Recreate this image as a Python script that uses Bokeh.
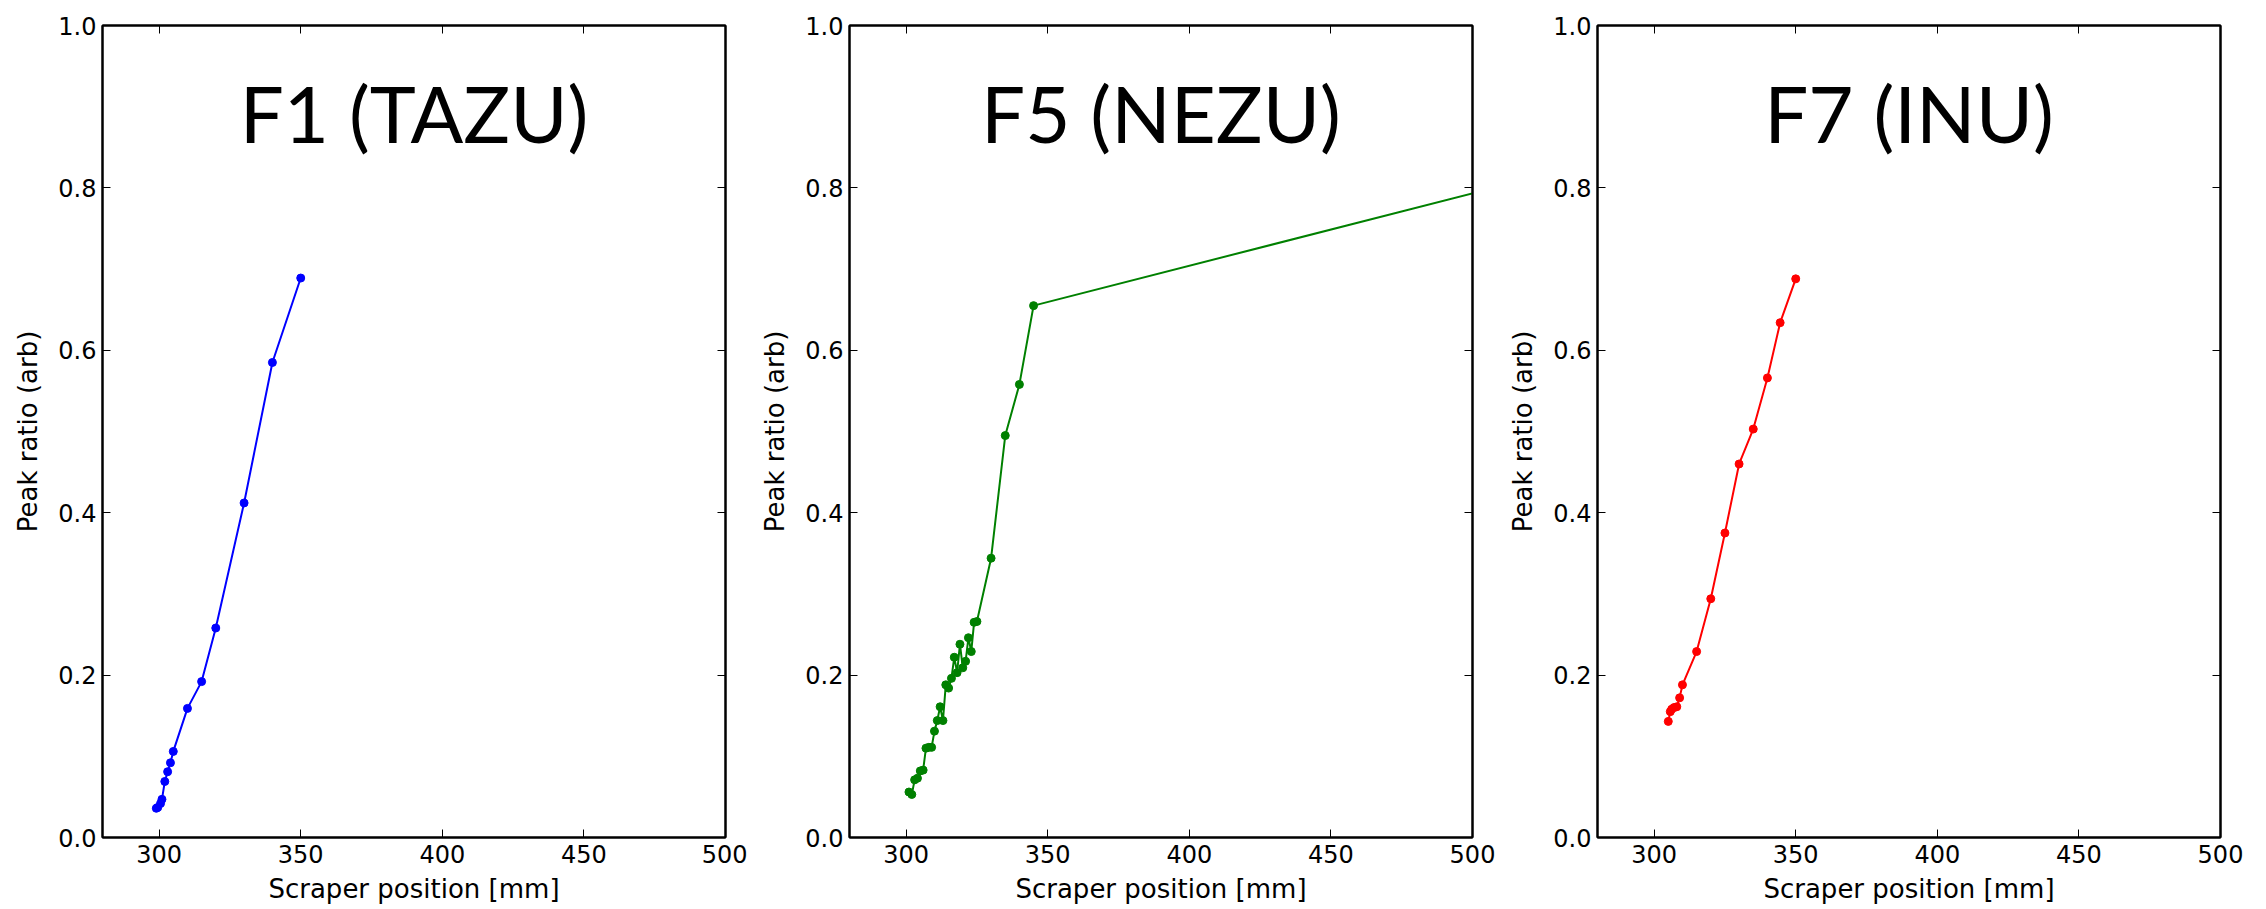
from bokeh.plotting import figure
from bokeh.layouts import row
from bokeh.models import (LinearAxis, FixedTicker, Range1d, Label, ColumnDataSource,
                          PrintfTickFormatter, CustomJSTickFormatter)
from bokeh.embed import file_html
from bokeh.resources import INLINE

# ---- data ----
f1_x = [299.0, 299.5, 300.5, 301.0, 302.0, 303.0, 304.0, 305.0, 310.0, 315.0, 320.0, 330.0, 340.0, 350.0]
f1_y = [0.036, 0.037, 0.042, 0.047, 0.069, 0.081, 0.092, 0.106, 0.159, 0.192, 0.258, 0.412, 0.585, 0.689]

f5_x = [301, 302, 303, 304, 305, 306, 307, 308, 309, 310, 311, 312, 313, 314, 315,
        316, 317, 318, 319, 320, 321, 322, 323, 324, 325, 330, 335, 340, 345, 550]
f5_y = [0.056, 0.053, 0.071, 0.073, 0.082, 0.083, 0.110, 0.111, 0.111, 0.131, 0.144, 0.161, 0.144, 0.188, 0.184,
        0.196, 0.222, 0.203, 0.238, 0.209, 0.217, 0.246, 0.229, 0.265, 0.266, 0.344, 0.495, 0.558, 0.655, 0.838]

f7_x = [305.0, 305.7, 306.2, 307.0, 308.0, 309.0, 310.0, 315.0, 320.0, 325.0, 330.0, 335.0, 340.0, 344.5, 350.0]
f7_y = [0.143, 0.155, 0.158, 0.160, 0.161, 0.172, 0.188, 0.229, 0.294, 0.375, 0.460, 0.503, 0.566, 0.634, 0.688]

panel_titles = ["F1 (TAZU)", "F5 (NEZU)", "F7 (INU)"]
panel_colors = ["#0000ff", "#008000", "#ff0000"]
x_ticks = [300, 350, 400, 450, 500]
y_ticks = [0.0, 0.2, 0.4, 0.6, 0.8, 1.0]
x_label = "Scraper position [mm]"
y_label = "Peak ratio (arb)"
x_limits = (280, 500)
y_limits = (0.0, 1.0)

TICK_FONT = "DejaVu Sans"
FS = "24px"
LABEL_FS = "26px"


def style_axis(ax, show_labels):
    ax.axis_line_color = "black"
    ax.axis_line_width = 2
    ax.major_tick_in = 8
    ax.major_tick_out = 0
    ax.major_tick_line_color = "black"
    ax.major_tick_line_width = 1
    ax.minor_tick_line_color = None
    ax.major_label_text_font = TICK_FONT
    ax.major_label_text_font_size = FS
    ax.major_label_text_color = "black"
    if not show_labels:
        ax.formatter = CustomJSTickFormatter(code="return ''")
        ax.major_label_standoff = 0


def make_panel(xs, ys, title, color, right_border):
    p = figure(frame_width=623, frame_height=812,
               x_range=Range1d(*x_limits), y_range=Range1d(*y_limits),
               output_backend="svg", toolbar_location=None,
               min_border_left=102, min_border_right=right_border,
               min_border_top=25, min_border_bottom=72,
               background_fill_color="white", border_fill_color="white")
    p.grid.visible = False
    p.outline_line_color = "black"
    p.outline_line_width = 2

    xa = p.xaxis[0]
    ya = p.yaxis[0]
    xa.ticker = FixedTicker(ticks=x_ticks)
    ya.ticker = FixedTicker(ticks=y_ticks)
    xa.formatter = PrintfTickFormatter(format="%d")
    ya.formatter = PrintfTickFormatter(format="%.1f")
    style_axis(xa, True)
    style_axis(ya, True)
    xa.major_label_standoff = 7
    ya.major_label_standoff = 6
    xa.axis_label = x_label
    ya.axis_label = y_label
    for ax in (xa, ya):
        ax.axis_label_text_font = TICK_FONT
        ax.axis_label_text_font_size = LABEL_FS
        ax.axis_label_text_font_style = "normal"
        ax.axis_label_text_color = "black"
    xa.axis_label_standoff = 8
    ya.axis_label_standoff = 12

    top = LinearAxis(ticker=FixedTicker(ticks=x_ticks))
    style_axis(top, False)
    right = LinearAxis(ticker=FixedTicker(ticks=y_ticks))
    style_axis(right, False)
    p.add_layout(top, "above")
    p.add_layout(right, "right")

    src = ColumnDataSource(data=dict(x=xs, y=ys))
    p.line("x", "y", source=src, line_color=color, line_width=2)
    p.scatter("x", "y", source=src, size=8, fill_color=color, line_color=color)

    lab = Label(x=(x_limits[0] + x_limits[1]) / 2, y=0.892, text=title,
                text_align="center", text_baseline="alphabetic",
                text_font="Lato", text_font_size="78px", text_color="black")
    p.add_layout(lab)
    return p


p1 = make_panel(f1_x, f1_y, panel_titles[0], panel_colors[0], 22)
p2 = make_panel(f5_x, f5_y, panel_titles[1], panel_colors[1], 23)
p3 = make_panel(f7_x, f7_y, panel_titles[2], panel_colors[2], 46)

layout = row(p1, p2, p3, spacing=0)

with open("out.html", "w") as fh:
    fh.write(file_html(layout, INLINE))
